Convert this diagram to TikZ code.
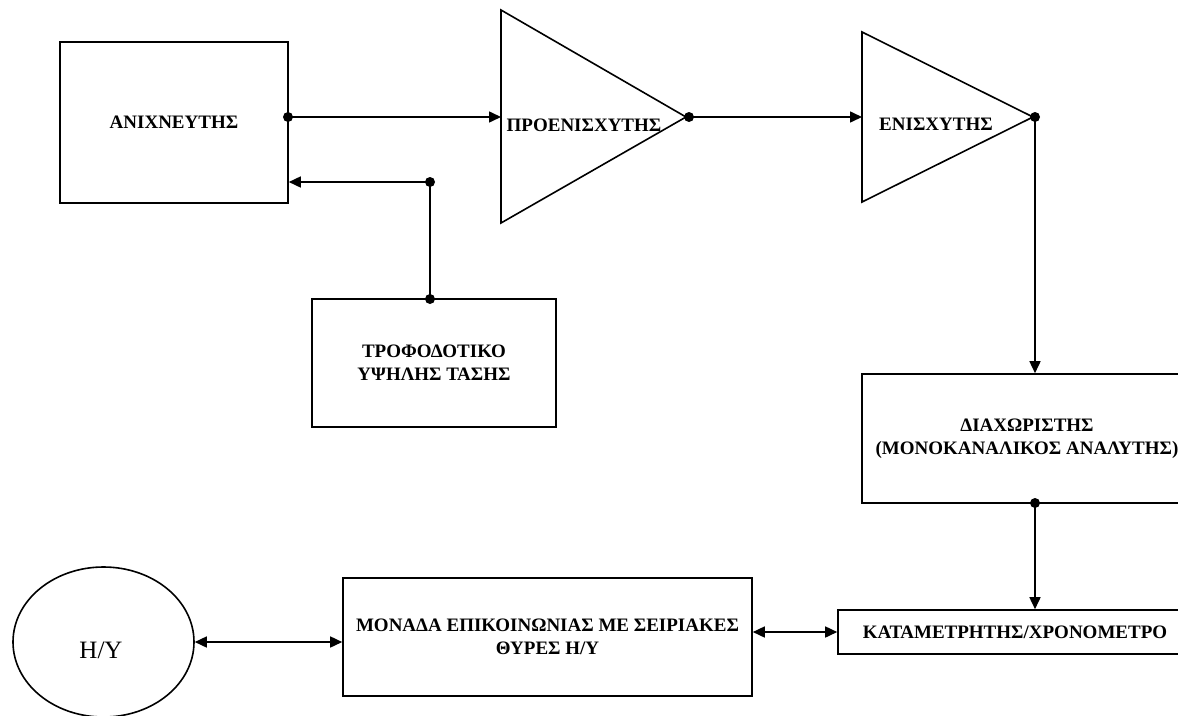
\documentclass[tikz,border=0pt]{standalone}
\usepackage{fontspec}
\setmainfont{Liberation Serif}
\usetikzlibrary{arrows.meta,shapes.geometric}
\begin{document}
\begin{tikzpicture}[x=1pt,y=-1pt,
  box/.style={draw, line width=1.6pt, inner sep=0pt, align=center, font=\bfseries\fontsize{19}{23}\selectfont},
  lbl/.style={inner sep=0pt, align=center, font=\bfseries\fontsize{19}{23}\selectfont},
  wire/.style={line width=1.6pt},
  arr/.style={wire, -{Triangle[length=12pt,width=11pt]}},
  darr/.style={wire, {Triangle[length=12pt,width=11pt]}-{Triangle[length=12pt,width=11pt]}},
  dotn/.style={circle, fill, inner sep=0pt, minimum size=10pt}]
\clip (0,0) rectangle (1178,715);
\fill[white] (0,0) rectangle (1178,715);

% boxes
\node[box, minimum width=228pt, minimum height=161pt] (det) at (174,122.5) {ΑΝΙΧΝΕΥΤΗΣ};
\node[box, minimum width=244pt, minimum height=128pt] (ps) at (434,363) {ΤΡΟΦΟΔΟΤΙΚΟ\\ΥΨΗΛΗΣ ΤΑΣΗΣ};
\node[box, minimum width=330pt, minimum height=129pt] (disc) at (1027,438.5) {ΔΙΑΧΩΡΙΣΤΗΣ\\(ΜΟΝΟΚΑΝΑΛΙΚΟΣ ΑΝΑΛΥΤΗΣ)};
\node[box, minimum width=354pt, minimum height=44pt] (cnt) at (1015,632) {ΚΑΤΑΜΕΤΡΗΤΗΣ/ΧΡΟΝΟΜΕΤΡΟ};
\node[box, minimum width=409pt, minimum height=118pt] (com) at (547.5,637) {ΜΟΝΑΔΑ ΕΠΙΚΟΙΝΩΝΙΑΣ ΜΕ ΣΕΙΡΙΑΚΕΣ\\ΘΥΡΕΣ Η/Υ};
\node[draw, ellipse, line width=1.6pt, minimum width=181pt, minimum height=150pt, inner sep=0pt] (pc) at (103.5,642) {};
\node[inner sep=0pt, font=\fontsize{25}{29}\selectfont] (pctext) at (101,650) {Η/Υ};

% amplifiers
\coordinate (pin) at (501,117);
\coordinate (pout) at (686,117);
\coordinate (ein) at (862,117);
\coordinate (eout) at (1033,117);
\draw[wire, line join=miter] (501,10) -- (501,223) -- (pout) -- cycle;
\draw[wire, line join=miter] (862,32) -- (862,202) -- (eout) -- cycle;
\node[lbl] (pretext) at (584,125) {ΠΡΟΕΝΙΣΧΥΤΗΣ};
\node[lbl] (amptext) at (936,124) {ΕΝΙΣΧΥΤΗΣ};

% junction dots
\node[dotn] (d1) at (288,117) {};
\node[dotn] (d2) at (689,117) {};
\node[dotn] (d3) at (1035,117) {};
\node[dotn] (d4) at (430,182) {};
\node[dotn] (d5) at (430,299) {};
\node[dotn] (d6) at (1035,503) {};

% connectors
\draw[arr] (d1.center) -- (pin);
\draw[arr] (d2.center) -- (ein);
\draw[arr] (d3.center) -- (d3.center |- disc.north);
\draw[arr] (d4.center) -- (d4.center -| det.east);
\draw[wire] (d4.center) -- (d5.center);
\draw[arr] (d6.center) -- (d6.center |- cnt.north);
\draw[darr] (pc.east) -- (pc.east -| com.west);
\draw[darr] (com.east |- cnt.west) -- (cnt.west);
\end{tikzpicture}
\end{document}
